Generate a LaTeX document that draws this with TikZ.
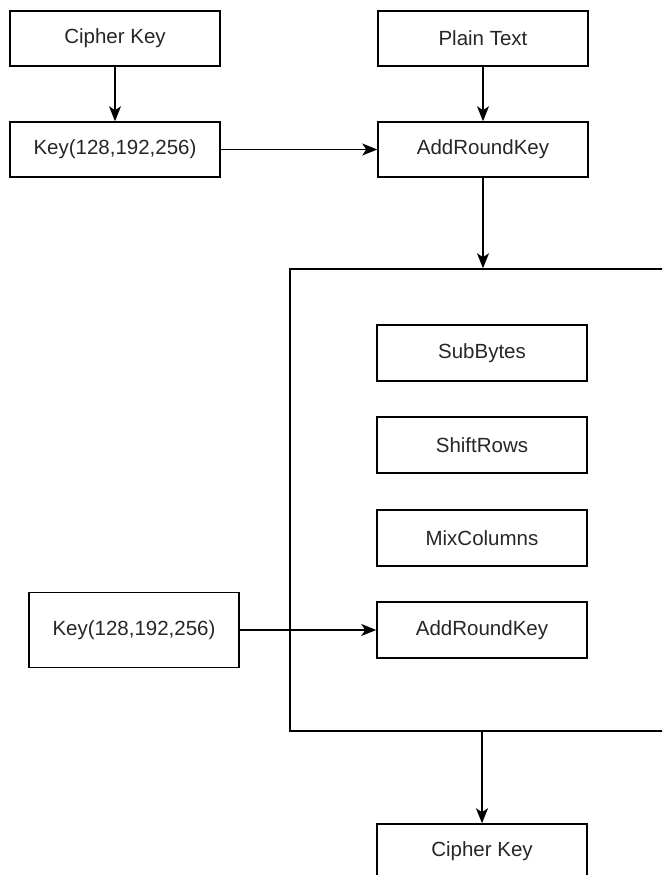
\documentclass[tikz,border=0pt]{standalone}
\usepackage{fontspec}
\setmainfont{Liberation Sans}
\usetikzlibrary{arrows.meta}
\begin{document}
\begin{tikzpicture}[x=1pt,y=-1pt,
  box/.style={draw, line width=1.5pt, inner sep=0pt, minimum width=210pt, minimum height=55pt,
    font=\fontsize{20.5}{24}\selectfont, text=black!85},
  arr/.style={line width=1.5pt, -{Stealth[length=15pt,width=12pt,inset=4pt]}}
]
\useasboundingbox (0,0) rectangle (662,875);
\clip (0,0) rectangle (662,875);
\node[box] (ck) at (115,38.5) {Cipher Key};
\node[box] (pt) at (483,38.5) {Plain Text};
\node[box] (k1) at (115,149.5) {Key(128,192,256)};
\node[box] (ark1) at (483,149.5) {AddRoundKey};
\node[draw, line width=1.5pt, inner sep=0pt, minimum width=420pt, minimum height=462pt] (round) at (500,500) {};
\node[box, minimum height=56pt] (sb) at (482,353) {SubBytes};
\node[box, minimum height=56pt] (sr) at (482,445) {ShiftRows};
\node[box, minimum height=56pt] (mc) at (482,538) {MixColumns};
\node[box, minimum height=56pt] (ark2) at (482,630) {AddRoundKey};
\node[box, minimum height=75pt] (k2) at (134,630) {Key(128,192,256)};
\node[box] (ck2) at (482,851.5) {Cipher Key};
\draw[arr] (ck) -- (k1);
\draw[arr] (pt) -- (ark1);
\draw[arr] (k1) -- (ark1);
\draw[arr] (ark1.south) -- (ark1.south |- round.north);
\draw[arr] (k2) -- (ark2);
\draw[arr] (ck2.north |- round.south) -- (ck2.north);
\end{tikzpicture}
\end{document}
